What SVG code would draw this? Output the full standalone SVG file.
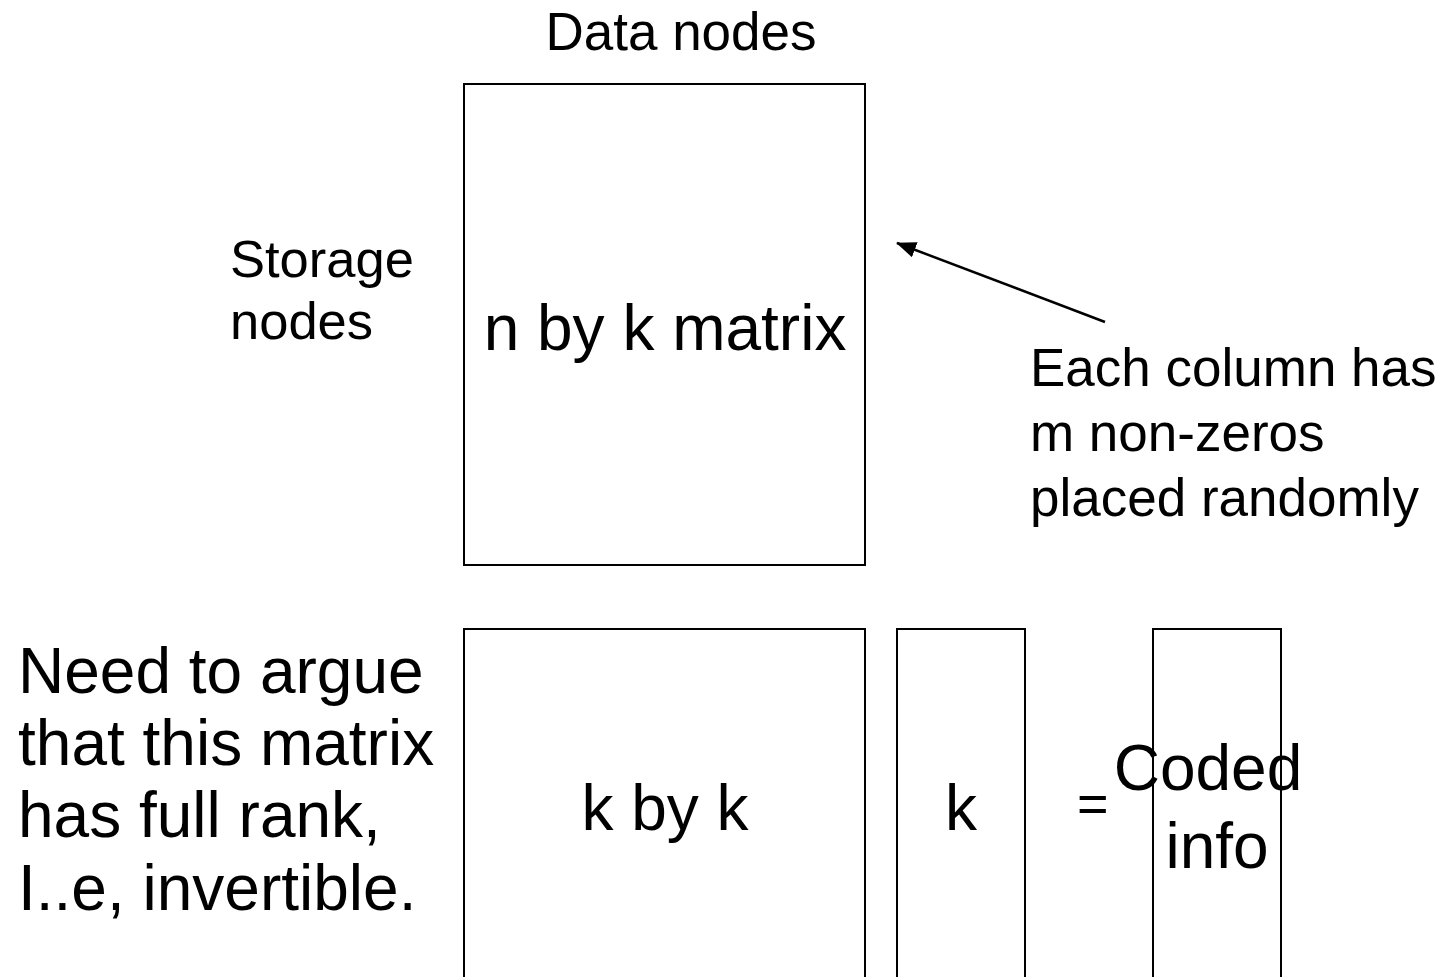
<svg xmlns="http://www.w3.org/2000/svg" width="1441" height="977" viewBox="0 0 1441 977">
<defs>
<style>
text{font-family:"Liberation Sans",Arial,sans-serif;fill:#000}
.box{fill:#fff;stroke:#000;stroke-width:2}
.c{text-anchor:middle}
</style>
<marker id="ah" viewBox="0 0 20 16" refX="19" refY="8" markerWidth="20" markerHeight="16" markerUnits="userSpaceOnUse" orient="auto">
<path d="M0,0 L20,8 L0,16 z" fill="#000"/>
</marker>
</defs>
<rect width="1441" height="977" fill="#fff"/>
<g id="title"><text x="681" y="50" font-size="53" class="c">Data nodes</text></g>
<g id="storage-label"><text x="230" y="277" font-size="52.5">Storage</text><text x="230" y="339" font-size="52.5">nodes</text></g>
<g id="nk-matrix"><rect class="box" x="464" y="84" width="401" height="481"/><text x="665" y="350" font-size="64" class="c">n by k matrix</text></g>
<g id="note"><text x="1030" y="386" font-size="53">Each column has</text><text x="1030" y="451" font-size="53">m non-zeros</text><text x="1030" y="516" font-size="53">placed randomly</text></g>
<g id="argue"><text x="18" y="693" font-size="64">Need to argue</text><text x="18" y="765" font-size="64">that this matrix</text><text x="18" y="837" font-size="64">has full rank,</text><text x="18" y="910" font-size="64">I..e, invertible.</text></g>
<g id="kk-matrix"><rect class="box" x="464" y="629" width="401" height="360"/><text x="665" y="830" font-size="64" class="c">k by k</text></g>
<g id="k-vector"><rect class="box" x="897" y="629" width="128" height="360"/><text x="961" y="830" font-size="64" class="c">k</text></g>
<g id="coded"><rect class="box" x="1153" y="629" width="128" height="360" style="fill:none"/><text x="1077" y="822" font-size="54">=</text><text x="1208" y="790" font-size="64" class="c">Coded</text><text x="1217" y="868" font-size="64" class="c">info</text></g>
<g id="connectors"><line x1="1105" y1="322" x2="897" y2="243" stroke="#000" stroke-width="2.5" marker-end="url(#ah)"/></g>
</svg>
